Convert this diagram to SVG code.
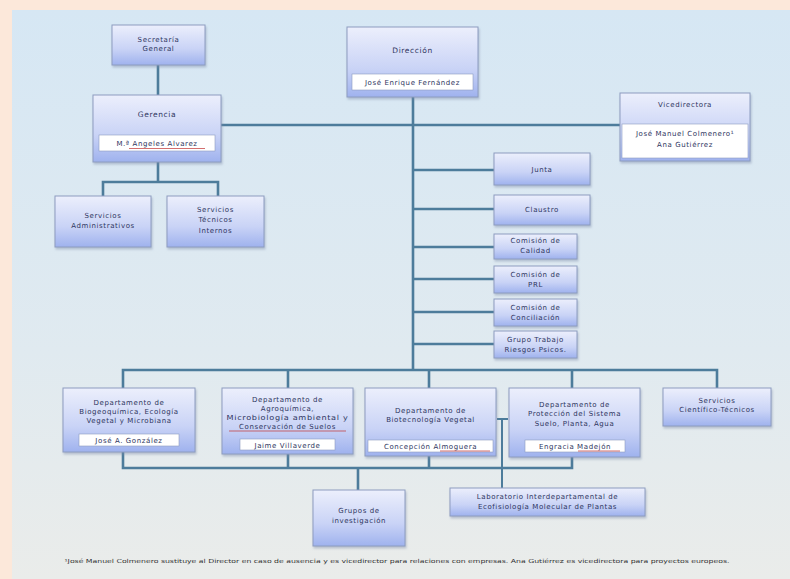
<svg xmlns="http://www.w3.org/2000/svg" width="790" height="579" viewBox="0 0 790 579">
<defs>
<linearGradient id="bg" x1="0" y1="0" x2="0" y2="1">
<stop offset="0" stop-color="#d6e7f4"/>
<stop offset="0.6" stop-color="#e0eaf0"/>
<stop offset="1" stop-color="#eaecea"/>
</linearGradient>
<linearGradient id="box" x1="0" y1="0" x2="0" y2="1">
<stop offset="0" stop-color="#eceffc"/>
<stop offset="0.6" stop-color="#c9d3f6"/>
<stop offset="1" stop-color="#9fb2ee"/>
</linearGradient>
<filter id="sh" x="-10%" y="-10%" width="130%" height="140%">
<feDropShadow dx="1" dy="2" stdDeviation="1.2" flood-color="#7a8aa8" flood-opacity="0.45"/>
</filter>
</defs>
<style>
.b{fill:url(#box);stroke:#8d9cc0;stroke-width:1;filter:url(#sh)}
.n{fill:#ffffff;stroke:#8d9cc0;stroke-width:0.6}
.t{font-family:"DejaVu Sans",Verdana,sans-serif;font-size:7.5px;letter-spacing:0.6px;fill:#2e3560;text-anchor:middle}
.s{font-family:"DejaVu Sans",Verdana,sans-serif;font-size:7px;letter-spacing:0.6px;fill:#2e3560;text-anchor:middle}
.c{fill:none;stroke:#4d7c9b;stroke-width:2.6}
.u{stroke:#c03030;stroke-width:0.7}
.f{font-family:"DejaVu Sans",Verdana,sans-serif;font-size:5.5px;fill:#333;text-anchor:middle}
</style>
<rect x="0" y="0" width="790" height="579" fill="#fce8da"/>
<rect x="12" y="10" width="778" height="569" fill="url(#bg)"/>

<g id="connectors">
<path class="c" d="M158 65 V95"/>
<path class="c" d="M221 125 H620"/>
<path class="c" d="M413 97 V370"/>
<path class="c" d="M158 162 V182 M103 196 V182 H218 V196"/>
<path class="c" d="M413 170 H494 M413 209 H494 M413 247 H494 M413 279 H494 M413 312 H494 M413 344 H494"/>
<path class="c" d="M123 388 V370 H717 V388 M288 370 V388 M429 370 V388 M572 370 V388"/>
<path class="c" d="M123 452 V468 H572 V457 M288 454 V468 M429 456 V468 M358 468 V490"/>
<path class="c" d="M502 419 V488 M497 419 H508" style="stroke-width:2"/>
</g>

<g id="secretaria"><rect class="b" x="112" y="25" width="93" height="40"/>
<text class="s" x="158.5" y="42">Secretaría</text><text class="s" x="158.5" y="51">General</text></g>

<g id="gerencia"><rect class="b" x="93" y="95" width="128" height="67"/>
<text class="t" x="157" y="117">Gerencia</text>
<rect class="n" x="99" y="135" width="116" height="16"/>
<text class="s" x="157" y="146">M.ª Angeles Alvarez</text>
<line class="u" x1="129" y1="148.5" x2="205" y2="148.5"/></g>

<g id="direccion"><rect class="b" x="347" y="27" width="131" height="70"/>
<text class="t" x="412.5" y="53">Dirección</text>
<rect class="n" x="352" y="74" width="121" height="16"/>
<text class="s" x="412.5" y="85">José Enrique Fernández</text></g>

<g id="vicedirectora"><rect class="b" x="620" y="93" width="130" height="68"/>
<text class="s" x="685" y="107">Vicedirectora</text>
<rect class="n" x="622" y="124" width="126" height="34"/>
<text class="s" x="685" y="136">José Manuel Colmenero¹</text>
<text class="s" x="685" y="147">Ana Gutiérrez</text></g>

<g id="serv-admin"><rect class="b" x="55" y="196" width="96" height="51"/>
<text class="s" x="103" y="218">Servicios</text><text class="s" x="103" y="228">Administrativos</text></g>

<g id="serv-tec"><rect class="b" x="167" y="196" width="97" height="51"/>
<text class="s" x="215.5" y="212">Servicios</text><text class="s" x="215.5" y="222">Técnicos</text><text class="s" x="215.5" y="233">Internos</text></g>

<g id="junta"><rect class="b" x="494" y="153" width="96" height="32"/>
<text class="s" x="542" y="172">Junta</text></g>
<g id="claustro"><rect class="b" x="494" y="195" width="96" height="30"/>
<text class="s" x="542" y="212">Claustro</text></g>
<g id="calidad"><rect class="b" x="494" y="234" width="83" height="25"/>
<text class="s" x="535.5" y="243">Comisión de</text><text class="s" x="535.5" y="253">Calidad</text></g>
<g id="prl"><rect class="b" x="494" y="266" width="83" height="27"/>
<text class="s" x="535.5" y="277">Comisión de</text><text class="s" x="535.5" y="287">PRL</text></g>
<g id="conciliacion"><rect class="b" x="494" y="299" width="83" height="27"/>
<text class="s" x="535.5" y="310">Comisión de</text><text class="s" x="535.5" y="320">Conciliación</text></g>
<g id="grupo-trabajo"><rect class="b" x="494" y="331" width="83" height="27"/>
<text class="s" x="535.5" y="342">Grupo Trabajo</text><text class="s" x="535.5" y="352">Riesgos Psicos.</text></g>

<g id="dept1"><rect class="b" x="63" y="388" width="132" height="64"/>
<text class="s" x="129" y="405">Departamento de</text>
<text class="s" x="129" y="414">Biogeoquímica, Ecología</text>
<text class="s" x="129" y="423">Vegetal y Microbiana</text>
<rect class="n" x="79" y="434" width="100" height="12"/>
<text class="s" x="129" y="443">José A. González</text></g>

<g id="dept2"><rect class="b" x="222" y="388" width="131" height="66"/>
<text class="s" x="287.5" y="402">Departamento de</text>
<text class="s" x="287.5" y="411">Agroquímica,</text>
<text class="s" x="287.5" y="420" textLength="122" lengthAdjust="spacingAndGlyphs">Microbiología ambiental y</text>
<text class="s" x="287.5" y="429">Conservación de Suelos</text>
<line class="u" x1="229" y1="431" x2="346" y2="431"/>
<rect class="n" x="240" y="439" width="95" height="11"/>
<text class="s" x="287.5" y="447.5">Jaime Villaverde</text></g>

<g id="dept3"><rect class="b" x="365" y="388" width="131" height="68"/>
<text class="s" x="430.5" y="413">Departamento de</text>
<text class="s" x="430.5" y="422">Biotecnología Vegetal</text>
<rect class="n" x="368" y="440" width="125" height="12"/>
<text class="s" x="430.5" y="449">Concepción Almoguera</text>
<line class="u" x1="440" y1="451" x2="490" y2="451"/></g>

<g id="dept4"><rect class="b" x="509" y="388" width="131" height="69"/>
<text class="s" x="574.5" y="407">Departamento de</text>
<text class="s" x="574.5" y="416">Protección del Sistema</text>
<text class="s" x="574.5" y="426">Suelo, Planta, Agua</text>
<rect class="n" x="525" y="440" width="100" height="12"/>
<text class="s" x="575" y="449">Engracia Madejón</text>
<line class="u" x1="578" y1="451" x2="620" y2="451"/></g>

<g id="serv-cientifico"><rect class="b" x="663" y="388" width="108" height="38"/>
<text class="s" x="717" y="403">Servicios</text>
<text class="s" x="717" y="412">Científico-Técnicos</text></g>

<g id="grupos-inv"><rect class="b" x="313" y="490" width="92" height="56"/>
<text class="s" x="359" y="513">Grupos de</text>
<text class="s" x="359" y="523">investigación</text></g>

<g id="laboratorio"><rect class="b" x="450" y="488" width="195" height="28"/>
<text class="s" x="547.5" y="499">Laboratorio Interdepartamental de</text>
<text class="s" x="547.5" y="509">Ecofisiología Molecular de Plantas</text></g>

<text class="f" x="397" y="563" textLength="665" lengthAdjust="spacingAndGlyphs">¹José Manuel Colmenero sustituye al Director en caso de ausencia y es vicedirector para relaciones con empresas. Ana Gutiérrez es vicedirectora para proyectos europeos.</text>
</svg>
